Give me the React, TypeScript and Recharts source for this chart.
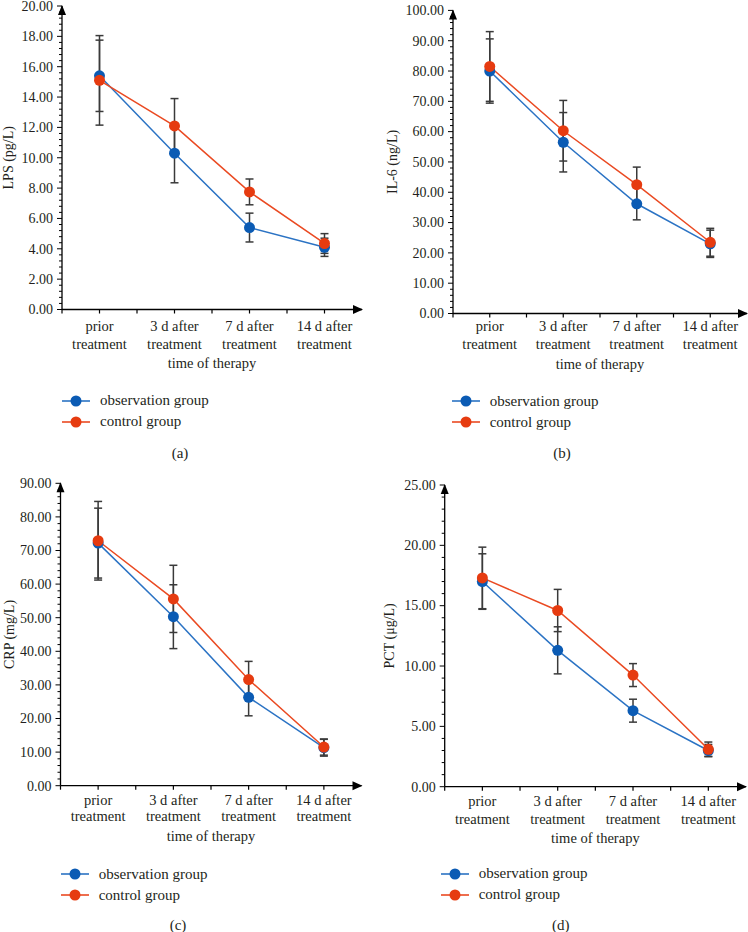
import React from 'react';
import { LineChart, Line, XAxis, YAxis, ErrorBar, ReferenceLine, Legend } from 'recharts';

const FONT = '"Liberation Serif", "DejaVu Serif", serif';
const INK = '#231f20';

// time points (two-line tick labels)
const timeLabels = [
  ['prior', 'treatment'],
  ['3 d after', 'treatment'],
  ['7 d after', 'treatment'],
  ['14 d after', 'treatment'],
];
const groupNames = ['observation group', 'control group'];
const lineColors = ['#2b73c4', '#ea4a22'];
const dotColors = ['#0b5bb4', '#e63b10'];

// (a) LPS
const lpsObs = [15.4, 10.3, 5.4, 4.1];
const lpsObsSd = [2.35, 1.95, 0.95, 0.6];
const lpsCtl = [15.1, 12.1, 7.75, 4.35];
const lpsCtlSd = [2.95, 1.8, 0.85, 0.65];
const lpsTicks = [0, 2, 4, 6, 8, 10, 12, 14, 16, 18, 20];

// (b) IL-6
const il6Obs = [80.0, 56.5, 36.2, 23.0];
const il6ObsSd = [10.6, 9.8, 5.3, 4.5];
const il6Ctl = [81.5, 60.3, 42.5, 23.5];
const il6CtlSd = [11.5, 10.0, 5.8, 4.6];
const il6Ticks = [0, 10, 20, 30, 40, 50, 60, 70, 80, 90, 100];

// (c) CRP
const crpObs = [72.2, 50.3, 26.3, 11.3];
const crpObsSd = [10.4, 9.5, 5.5, 2.5];
const crpCtl = [72.9, 55.6, 31.6, 11.5];
const crpCtlSd = [11.7, 10.0, 5.4, 2.4];
const crpTicks = [0, 10, 20, 30, 40, 50, 60, 70, 80, 90];

// (d) PCT
const pctObs = [17.0, 11.3, 6.3, 3.0];
const pctObsSd = [2.3, 1.95, 0.95, 0.5];
const pctCtl = [17.3, 14.6, 9.25, 3.1];
const pctCtlSd = [2.55, 1.75, 0.95, 0.6];
const pctTicks = [0, 5, 10, 15, 20, 25];

const buildRows = (obs: number[], obsSd: number[], ctl: number[], ctlSd: number[]) =>
  timeLabels.map((_, i) => ({ x: i + 0.5, obs: obs[i], obsSd: obsSd[i], ctl: ctl[i], ctlSd: ctlSd[i] }));

// band edges and centres on a 0..n numeric axis
const xTicks = timeLabels.flatMap((_, i) => [i, i + 0.5]);

const withMinor = (max: number, step: number) =>
  Array.from({ length: Math.round(max / step) + 1 }, (_, i) => Number((i * step).toFixed(4)));

const XTick = (props: any) => {
  const { x, y, payload, b1, b2 } = props;
  const idx = payload.value - 0.5;
  const centre = Number.isInteger(idx);
  return (
    <g>
      <line x1={x} x2={x} y1={y} y2={y + 4} stroke="#000" strokeWidth={1.2} />
      {centre && (
        <text textAnchor="middle" fontFamily={FONT} fontSize={14.5} fill={INK}>
          <tspan x={x} y={y + b1}>{timeLabels[idx][0]}</tspan>
          <tspan x={x} y={y + b2}>{timeLabels[idx][1]}</tspan>
        </text>
      )}
    </g>
  );
};

const YTick = (props: any) => {
  const { x, y, payload, majors } = props;
  const v = payload.value;
  const major = majors.some((m: number) => Math.abs(m - v) < 1e-6);
  return (
    <g>
      <line x1={x} x2={x - (major ? 5 : 3)} y1={y} y2={y} stroke="#000" strokeWidth={1} />
      {major && (
        <text x={x - 9} y={y} dy={4.8} textAnchor="end" fontFamily={FONT} fontSize={14} fill={INK}>
          {v.toFixed(2)}
        </text>
      )}
    </g>
  );
};

const ArrowRight = (p: any) => (
  <polygon points={`${p.x2 + 1},${p.y2} ${p.x2 - 9},${p.y2 - 4.5} ${p.x2 - 9},${p.y2 + 4.5}`} fill="#000" />
);
const ArrowUp = (p: any) => (
  <polygon points={`${p.x1},${p.y1 - 1} ${p.x1 - 4},${p.y1 + 9} ${p.x1 + 4},${p.y1 + 9}`} fill="#000" />
);

const LegendBox = (props: any) => {
  const payload = props.payload || [];
  return (
    <div style={{ fontFamily: FONT, fontSize: 15, color: INK }}>
      {groupNames.map((name, i) => {
        const entry = payload.find((p: any) => p.value === name);
        return (
          <div key={name} style={{ display: 'flex', alignItems: 'center', height: 21 }}>
            <svg width={28} height={14} style={{ marginRight: 10 }}>
              <line x1={0} x2={28} y1={7} y2={7} stroke={lineColors[i]} strokeWidth={1.6} />
              <circle cx={14} cy={7} r={5.5} fill={dotColors[i]} />
            </svg>
            <span>{entry ? entry.value : name}</span>
          </div>
        );
      })}
    </div>
  );
};

interface PanelProps {
  left: number;
  top: number;
  width: number;
  height: number;
  plot: { l: number; t: number; r: number; b: number };
  rows: any[];
  majors: number[];
  minorStep: number;
  yLabel: string;
  yLabelX: number;
  b1: number;
  b2: number;
  xTitleOffset: number;
  legend: { left: number; top: number };
  caption: string;
  captionPos: { x: number; y: number };
}

function Panel(p: PanelProps) {
  const xAxisH = 70;
  const yMax = p.majors[p.majors.length - 1];
  return (
    <div style={{ position: 'absolute', left: p.left, top: p.top, width: p.width, height: p.height }}>
      <LineChart
        width={p.width}
        height={p.height}
        data={p.rows}
        margin={{ top: p.plot.t, right: p.width - p.plot.r, bottom: p.height - p.plot.b - xAxisH, left: 0 }}
        style={{ fontFamily: FONT }}
      >
        <XAxis
          dataKey="x"
          type="number"
          domain={[0, timeLabels.length]}
          ticks={xTicks}
          interval={0}
          height={xAxisH}
          tickSize={0}
          tickMargin={0}
          tickLine={false}
          axisLine={{ stroke: '#000', strokeWidth: 1.3 }}
          tick={(tp: any) => <XTick {...tp} b1={p.b1} b2={p.b2} />}
          label={{
            value: 'time of therapy',
            position: 'insideBottom',
            offset: p.xTitleOffset,
            style: { fontFamily: FONT, fontSize: 14.5, fill: INK },
          }}
        />
        <YAxis
          type="number"
          domain={[0, yMax]}
          ticks={withMinor(yMax, p.minorStep)}
          interval={0}
          width={p.plot.l}
          tickSize={0}
          tickMargin={0}
          tickLine={false}
          axisLine={{ stroke: '#000', strokeWidth: 1.3 }}
          tick={(tp: any) => <YTick {...tp} majors={p.majors} />}
          label={{
            value: p.yLabel,
            angle: -90,
            position: 'insideLeft',
            offset: p.yLabelX,
            style: { textAnchor: 'middle', fontFamily: FONT, fontSize: 14, fill: INK },
          }}
        />
        <ReferenceLine y={0} stroke="none" shape={ArrowRight} ifOverflow="visible" />
        <ReferenceLine y={yMax} stroke="none" shape={ArrowUp} ifOverflow="visible" />
        <Legend
          layout="vertical"
          align="center"
          verticalAlign="middle"
          content={LegendBox}
          wrapperStyle={{ left: p.legend.left, top: p.legend.top, width: 260 }}
        />
        <Line
          type="linear"
          dataKey="obs"
          name={groupNames[0]}
          stroke={lineColors[0]}
          strokeWidth={1.5}
          dot={{ r: 5.5, fill: dotColors[0], stroke: dotColors[0], strokeWidth: 0 }}
          activeDot={false}
          isAnimationActive={false}
        >
          <ErrorBar dataKey="obsSd" direction="y" width={4} stroke="#3a3a3a" strokeWidth={1.5} isAnimationActive={false} />
        </Line>
        <Line
          type="linear"
          dataKey="ctl"
          name={groupNames[1]}
          stroke={lineColors[1]}
          strokeWidth={1.5}
          dot={{ r: 5.5, fill: dotColors[1], stroke: dotColors[1], strokeWidth: 0 }}
          activeDot={false}
          isAnimationActive={false}
        >
          <ErrorBar dataKey="ctlSd" direction="y" width={4} stroke="#3a3a3a" strokeWidth={1.5} isAnimationActive={false} />
        </Line>
      </LineChart>
      <div
        style={{
          position: 'absolute',
          left: p.captionPos.x,
          top: p.captionPos.y - 9,
          transform: 'translateX(-50%)',
          fontFamily: FONT,
          fontSize: 15,
          lineHeight: '18px',
          color: INK,
        }}
      >
        {p.caption}
      </div>
    </div>
  );
}

export default function App() {
  return (
    <div style={{ position: 'absolute', left: 0, top: 0, width: 748, height: 932, background: '#fff', overflow: 'hidden' }}>
      <Panel
        left={0}
        top={0}
        width={374}
        height={460}
        plot={{ l: 62, t: 6, r: 362, b: 309.5 }}
        rows={buildRows(lpsObs, lpsObsSd, lpsCtl, lpsCtlSd)}
        majors={lpsTicks}
        minorStep={0.4}
        yLabel="LPS (pg/L)"
        yLabelX={8.5}
        b1={21.5}
        b2={39}
        xTitleOffset={12}
        legend={{ left: 62, top: 390 }}
        caption="(a)"
        captionPos={{ x: 180, y: 452.7 }}
      />
      <Panel
        left={374}
        top={0}
        width={374}
        height={460}
        plot={{ l: 79, t: 10.4, r: 373, b: 313.5 }}
        rows={buildRows(il6Obs, il6ObsSd, il6Ctl, il6CtlSd)}
        majors={il6Ticks}
        minorStep={2}
        yLabel="IL-6 (ng/L)"
        yLabelX={18}
        b1={17.7}
        b2={35.3}
        xTitleOffset={15}
        legend={{ left: 77.7, top: 390.5 }}
        caption="(b)"
        captionPos={{ x: 188, y: 452.7 }}
      />
      <Panel
        left={0}
        top={460}
        width={374}
        height={472}
        plot={{ l: 60.5, t: 23.3, r: 361.5, b: 325.7 }}
        rows={buildRows(crpObs, crpObsSd, crpCtl, crpCtlSd)}
        majors={crpTicks}
        minorStep={2}
        yLabel="CRP (mg/L)"
        yLabelX={9}
        b1={18.8}
        b2={35.5}
        xTitleOffset={15.2}
        legend={{ left: 60.7, top: 403.5 }}
        caption="(c)"
        captionPos={{ x: 178, y: 465 }}
      />
      <Panel
        left={374}
        top={460}
        width={374}
        height={472}
        plot={{ l: 70.7, t: 25, r: 372, b: 326.7 }}
        rows={buildRows(pctObs, pctObsSd, pctCtl, pctCtlSd)}
        majors={pctTicks}
        minorStep={1}
        yLabel="PCT (μg/L)"
        yLabelX={15}
        b1={19.5}
        b2={36.8}
        xTitleOffset={13.9}
        legend={{ left: 66.7, top: 403 }}
        caption="(d)"
        captionPos={{ x: 186.7, y: 465 }}
      />
    </div>
  );
}
